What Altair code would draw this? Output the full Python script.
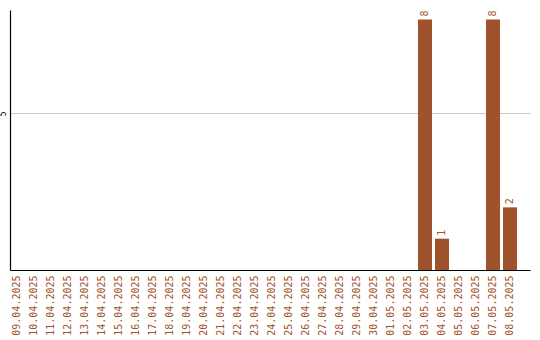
import altair as alt
import pandas as pd

dates = [
    "09.04.2025", "10.04.2025", "11.04.2025", "12.04.2025", "13.04.2025",
    "14.04.2025", "15.04.2025", "16.04.2025", "17.04.2025", "18.04.2025",
    "19.04.2025", "20.04.2025", "21.04.2025", "22.04.2025", "23.04.2025",
    "24.04.2025", "25.04.2025", "26.04.2025", "27.04.2025", "28.04.2025",
    "29.04.2025", "30.04.2025", "01.05.2025", "02.05.2025", "03.05.2025",
    "04.05.2025", "05.05.2025", "06.05.2025", "07.05.2025", "08.05.2025",
]
counts = [0, 0, 0, 0, 0, 0, 0, 0, 0, 0,
          0, 0, 0, 0, 0, 0, 0, 0, 0, 0,
          0, 0, 0, 0, 8, 1, 0, 0, 8, 2]

df = pd.DataFrame({"date": dates, "count": counts})

BROWN = "#A0522D"
MONO = "DejaVu Sans Mono"

x_enc = alt.X(
    "date:N", sort=None, title=None,
    scale=alt.Scale(paddingInner=3 / 17, paddingOuter=0.382, align=0),
    axis=alt.Axis(labelAngle=270, labelAlign="right", labelBaseline="middle",
                  labelColor=BROWN, labelFont=MONO, labelFontSize=10,
                  labelPadding=5, ticks=False, domainColor="black",
                  domainWidth=1.2, grid=False, labelOverlap=False),
)
y_enc = alt.Y(
    "count:Q", title=None,
    scale=alt.Scale(domain=[0, 8.3], nice=False),
    axis=alt.Axis(values=[5], labelAngle=270, labelAlign="center",
                  labelBaseline="bottom", labelFontSize=8, labelFont=MONO,
                  labelColor="black", labelPadding=3, ticks=False,
                  domainColor="black", domainWidth=1.2, grid=True,
                  gridColor="#c8c8c8", gridWidth=1),
)

bars = alt.Chart(df).mark_bar(color=BROWN).encode(x=x_enc, y=y_enc)

labels = alt.Chart(df).transform_filter(alt.datum["count"] > 0).mark_text(
    angle=270, align="left", baseline="middle", dx=3,
    color=BROWN, font=MONO, fontSize=10,
).encode(x=alt.X("date:N", sort=None), y="count:Q", text="count:Q")

chart = alt.layer(bars, labels).properties(
    width=520, height=260,
    background="white",
    autosize=alt.AutoSizeParams(type="none"),
    padding={"left": 10, "top": 10, "right": 10, "bottom": 70},
).configure_view(stroke=None)

chart.save("out.html", embed_options={"renderer": "svg", "actions": False})
